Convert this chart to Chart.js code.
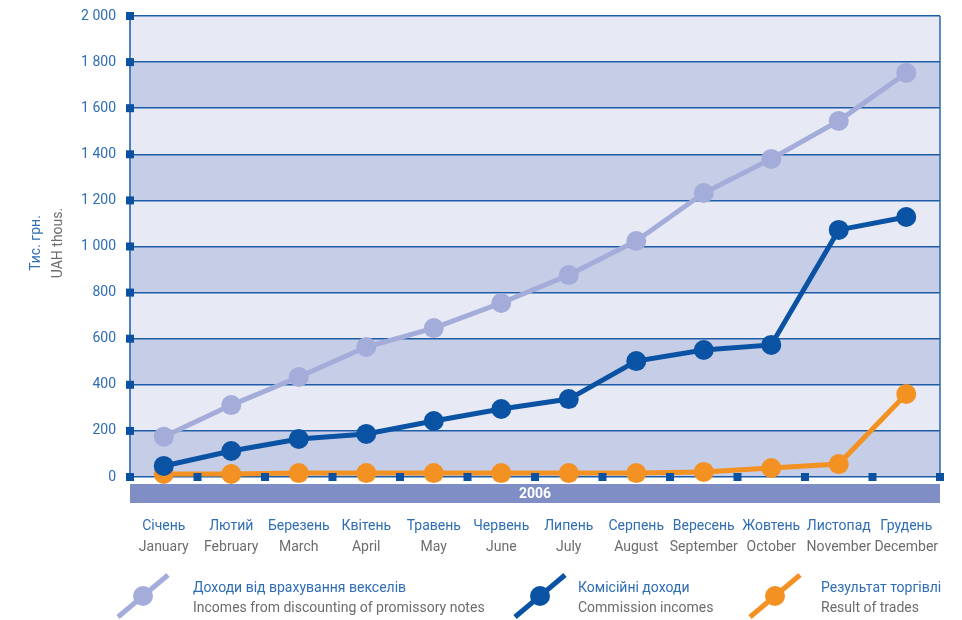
<!DOCTYPE html>
<html lang="uk">
<head>
<meta charset="UTF-8">
<title>Доходи 2006</title>
<script src="https://cdn.jsdelivr.net/npm/chart.js"></script>
<style>
    html, body { margin: 0; padding: 0; background: #fff; }
    #wrap { width: 962px; height: 620px; position: relative; }
</style>
</head>
<body>
<div id="wrap"><canvas id="chart" width="962" height="620"></canvas></div>
<script>
    // chart data
    var monthsUa = ['Січень', 'Лютий', 'Березень', 'Квітень', 'Травень', 'Червень', 'Липень', 'Серпень', 'Вересень', 'Жовтень', 'Листопад', 'Грудень'];
    var monthsEn = ['January', 'February', 'March', 'April', 'May', 'June', 'July', 'August', 'September', 'October', 'November', 'December'];
    var discountIncome = [175, 312, 434, 564, 646, 755, 876, 1024, 1232, 1380, 1545, 1753];
    var commissionIncome = [48, 113, 165, 187, 243, 295, 338, 503, 551, 573, 1072, 1128];
    var tradeResult = [13, 13, 17, 17, 17, 17, 17, 17, 22, 39, 56, 360];
    var seriesUa = ['Доходи від врахування векселів', 'Комісійні доходи', 'Результат торгівлі'];
    var seriesEn = ['Incomes from discounting of promissory notes', 'Commission incomes', 'Result of trades'];
    var yearLabel = '2006';
    var yTitleUa = 'Тис. грн.';
    var yTitleEn = 'UAH thous.';

    var FONT = "Roboto, 'Liberation Sans', sans-serif";
    var BLUE_TXT = '#2f6db5';
    var GREY_TXT = '#6b6c6e';
    var NAVY = '#0a51a1';
    var colors = ['#a4add9', '#0a52a3', '#f39123'];

    // fixed sizes, no extra label padding from the layout
    function fixSize(w, h) {
        return function (s) {
            if (w) s.width = w;
            if (h) s.height = h;
            s.paddingTop = s.paddingBottom = s.paddingLeft = s.paddingRight = 0;
        };
    }

    // backgrounds, year strip, axis squares, legend
    var decor = {
        id: 'decor',
        beforeDraw(chart) {
            var c = chart.ctx, a = chart.chartArea, y = chart.scales.y;
            var ticks = y.ticks;
            c.save();
            for (var i = 0; i < ticks.length - 1; i++) {
                var y0 = y.getPixelForValue(ticks[i].value);
                var y1 = y.getPixelForValue(ticks[i + 1].value);
                c.fillStyle = (i % 2 === 0) ? '#c6cde7' : '#e7eaf5';
                c.fillRect(a.left, y1, a.right - a.left, y0 - y1);
            }
            // year strip
            c.fillStyle = '#7f8fc6';
            c.fillRect(a.left, a.bottom + 7, a.right - a.left, 19);
            c.fillStyle = '#ffffff';
            c.font = 'bold 14px ' + FONT;
            c.textAlign = 'center';
            c.textBaseline = 'middle';
            c.fillText(yearLabel, (a.left + a.right) / 2, a.bottom + 17);
            c.restore();
        },
        afterDatasetsDraw(chart) {
            var c = chart.ctx, a = chart.chartArea, y = chart.scales.y, x = chart.scales.x;
            c.save();
            // right border
            c.strokeStyle = '#2a66ad';
            c.lineWidth = 1.5;
            c.beginPath();
            c.moveTo(a.right, a.top);
            c.lineTo(a.right, a.bottom);
            c.stroke();
            c.fillStyle = NAVY;
            y.ticks.forEach(function (t) {
                var py = y.getPixelForValue(t.value);
                c.fillRect(a.left - 4, py - 4, 8, 8);
            });
            var n = monthsUa.length;
            for (var i = 0; i <= n; i++) {
                var px = x.getPixelForValue(i - 0.5);
                c.fillRect(px - 4, a.bottom - 4, 8, 8);
            }
            c.restore();
        },
        afterDraw(chart) {
            var c = chart.ctx;
            c.save();
            // y title
            c.translate(36, 243);
            c.rotate(-Math.PI / 2);
            c.textAlign = 'center';
            c.textBaseline = 'middle';
            c.font = '14px ' + FONT;
            c.fillStyle = BLUE_TXT;
            c.fillText(yTitleUa, 0, 0);
            c.fillStyle = GREY_TXT;
            c.fillText(yTitleEn, 0, 22);
            c.restore();

            // legend
            var items = [[143, 193], [540, 578], [775, 821]];
            c.save();
            items.forEach(function (it, k) {
                var cx = it[0], cy = 596;
                c.strokeStyle = colors[k];
                c.lineWidth = 5;
                c.beginPath();
                c.moveTo(cx - 25, cy + 21);
                c.lineTo(cx + 25, cy - 21);
                c.stroke();
                c.fillStyle = colors[k];
                c.beginPath();
                c.arc(cx, cy, 10, 0, Math.PI * 2);
                c.fill();
                c.textAlign = 'left';
                c.textBaseline = 'middle';
                c.font = '14px ' + FONT;
                c.fillStyle = BLUE_TXT;
                c.fillText(seriesUa[k], it[1], 588);
                c.fillStyle = GREY_TXT;
                c.fillText(seriesEn[k], it[1], 608);
            });
            c.restore();
        }
    };

    function mkSet(label, data, color, order) {
        return {
            label: label,
            data: data,
            borderColor: color,
            backgroundColor: color,
            borderWidth: 5,
            pointRadius: 10,
            pointHoverRadius: 10,
            pointBorderWidth: 0,
            tension: 0,
            clip: false,
            order: order
        };
    }

    new Chart(document.getElementById('chart'), {
        type: 'line',
        data: {
            labels: monthsUa,
            datasets: [
                mkSet(seriesUa[0], discountIncome, colors[0], 3),
                mkSet(seriesUa[1], commissionIncome, colors[1], 1),
                mkSet(seriesUa[2], tradeResult, colors[2], 2)
            ]
        },
        plugins: [decor],
        options: {
            responsive: false,
            animation: false,
            layout: { padding: { left: 0, top: 16, right: 22, bottom: 60 } },
            plugins: { legend: { display: false }, tooltip: { enabled: false } },
            scales: {
                y: {
                    min: 0,
                    max: 2000,
                    ticks: {
                        stepSize: 200,
                        padding: 14,
                        color: BLUE_TXT,
                        font: { family: FONT, size: 14 },
                        callback: function (v) {
                            return String(v).replace(/\B(?=(\d{3})+(?!\d))/g, ' ');
                        }
                    },
                    grid: { color: '#1d5ca6', lineWidth: 1.5, drawTicks: false },
                    border: { color: '#4f7fbf', width: 2 },
                    afterFit: fixSize(130, 0)
                },
                x: {
                    offset: true,
                    weight: 0,
                    grid: { display: false, drawTicks: false },
                    border: { display: false },
                    ticks: {
                        padding: 41,
                        color: BLUE_TXT,
                        maxRotation: 0,
                        autoSkip: false,
                        font: { family: FONT, size: 14 }
                    },
                    afterFit: fixSize(0, 57)
                },
                x2: {
                    type: 'category',
                    labels: monthsEn,
                    position: 'bottom',
                    offset: true,
                    weight: 1,
                    grid: { display: false, drawTicks: false },
                    border: { display: false },
                    ticks: {
                        padding: 5,
                        color: GREY_TXT,
                        maxRotation: 0,
                        autoSkip: false,
                        font: { family: FONT, size: 14 }
                    },
                    afterFit: fixSize(0, 26)
                }
            }
        }
    });
</script>
</body>
</html>
